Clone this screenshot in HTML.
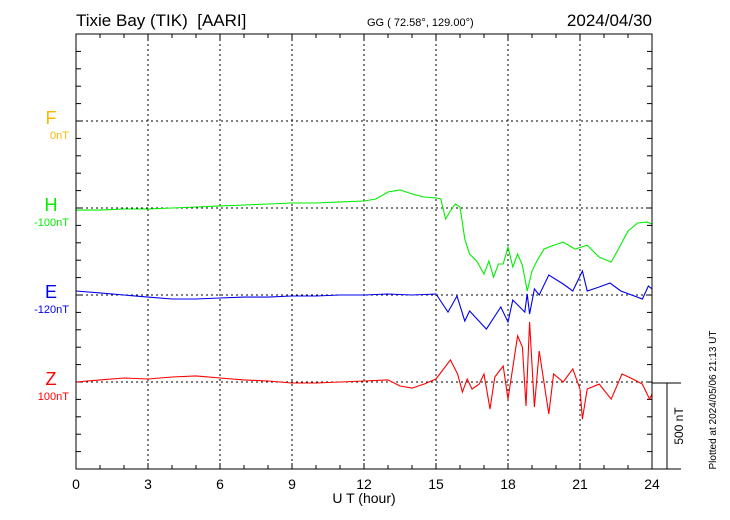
<!DOCTYPE html>
<html><head><meta charset="utf-8"><style>
body{margin:0;background:#fff;}
svg{display:block;font-family:"Liberation Sans",sans-serif;}
</style></head><body>
<svg id="chart" width="730" height="520" viewBox="0 0 730 520">
<text x="76" y="26" font-size="17">Tixie Bay (TIK)&#160; [AARI]</text>
<text x="367" y="26" font-size="11">GG ( 72.58°, 129.00°)</text>
<text x="652" y="26" font-size="17" text-anchor="end">2024/04/30</text>
<g id="grid"></g>
<g id="series"></g>
<rect x="76" y="34" width="576" height="435" fill="none" stroke="#000" stroke-width="1"/>
<g id="labels"></g>
<text x="364" y="503" font-size="14" text-anchor="middle">U T (hour)</text>
<g>
<line x1="652" y1="383" x2="681" y2="383" stroke="#000"/>
<line x1="667" y1="383" x2="667" y2="469" stroke="#000"/>
<line x1="652" y1="469" x2="681" y2="469" stroke="#000"/>
<text transform="translate(683,426) rotate(-90)" font-size="12" text-anchor="middle">500 nT</text>
</g>
<text transform="translate(716,400) rotate(-90)" font-size="10" text-anchor="middle">Plotted at 2024/05/06 21:13 UT</text>
</svg>
<script>
const xTicks = [0,3,6,9,12,15,18,21,24];
const hT = [0,1,2,3,4,5,6,7,8,9,10,11,12,12.5,13,13.5,14,14.5,15,15.2,15.4,15.6,15.8,16,16.2,16.4,16.7,17,17.2,17.4,17.6,17.8,18,18.2,18.4,18.6,18.8,19,19.2,19.5,19.8,20.3,20.8,21.3,21.8,22.3,22.6,23,23.4,23.8,24];
const hV = [-12,-12,-6,-6,0,6,12,17,23,29,29,35,40,52,92,104,81,63,58,52,-63,-17,23,6,-178,-265,-305,-380,-305,-397,-322,-322,-224,-339,-265,-328,-477,-362,-305,-236,-219,-196,-236,-213,-282,-311,-236,-132,-86,-81,-92];
const eT = [0,1,2,3,4,5,6,7,8,9,10,11,12,13,14,15,15.5,15.875,16.2,16.4,17.1,17.7,18.0,18.2,18.7,18.8,18.9,19.1,19.3,19.7,20.3,20.7,21.1,21.3,21.8,22.25,22.7,23.6,23.85,24];
const eV = [23,12,0,-12,-23,-23,-17,-12,-12,-6,-6,0,0,6,0,6,-98,-6,-150,-92,-196,-69,-155,-29,-98,6,-109,35,0,115,63,23,138,23,46,69,23,-23,52,35];
const zT = [0,1,2,3,4,5,6,7,8,9,10,11,12,13,13.5,14,14.5,15,15.6,15.9,16.1,16.3,16.5,16.8,17.0,17.25,17.45,17.8,18.0,18.4,18.6,18.75,18.9,19.1,19.3,19.7,19.9,20.3,20.7,21.0,21.1,21.3,21.8,22.3,22.75,23.2,23.6,23.9,24];
const zV = [0,12,23,17,29,35,23,12,6,-6,-6,0,6,12,-23,-35,-12,17,127,46,-58,17,-40,-12,46,-155,29,92,-98,265,201,-138,345,-144,178,-184,46,0,75,-40,-213,-40,-12,-98,46,17,-12,-98,-69];
const channelNames = ["F","H","E","Z"];
const channelBase = ["0nT","-100nT","-120nT","100nT"];

const NS="http://www.w3.org/2000/svg";
const X0=76,X1=652,Y0=34,Y1=469;
const xs=h=>X0+(X1-X0)*h/24;
const pxPerNT=87/500;
const rowY=i=>Y0+87*(i+1);
function mk(tag,attrs,parent){const e=document.createElementNS(NS,tag);for(const k in attrs)e.setAttribute(k,attrs[k]);parent.appendChild(e);return e;}
const grid=document.getElementById('grid');
for(let h=0;h<=24;h++){
  const x=xs(h);
  const t1=mk('line',{x1:x,y1:Y0,x2:x,y2:Y0+(h%3?4:6),stroke:'#000'},grid);
  
  
  const t2=mk('line',{x1:x,y1:Y1,x2:x,y2:Y1-(h%3?4:6),stroke:'#000'},grid);
  
  
}
xTicks.forEach(h=>{
  const x=xs(h);
  if(h>0&&h<24){const g=mk('line',{x1:x,y1:Y0,x2:x,y2:Y1,stroke:'#000','stroke-dasharray':'2,3'},grid);
  
  }
  const t=mk('text',{x:x,y:489,'font-size':14,'text-anchor':'middle'},grid);
  
  
  t.textContent=h;
});
for(let i=1;i<25;i++){
  const y=Y0+i*87/5;
  const a=mk('line',{x1:X0,y1:y,x2:X0+5,y2:y,stroke:'#000'},grid);
  
  
  const b=mk('line',{x1:X1,y1:y,x2:X1-5,y2:y,stroke:'#000'},grid);
  
  
}
for(let i=0;i<4;i++){
  const g=mk('line',{x1:X0,y1:rowY(i),x2:X1,y2:rowY(i),stroke:'#000','stroke-dasharray':'2,3'},grid);
  
  
}
const colors=['#ffb400','#00ee00','#0000ee','#ff0000'];
const series=document.getElementById('series');
function line(T,V,row,name){
  const pts=T.map((t,i)=>xs(t).toFixed(1)+','+(rowY(row)-V[i]*pxPerNT).toFixed(1)).join(' ');
  const p=mk('polyline',{points:pts,fill:'none',stroke:colors[row],'stroke-width':1.1},series);
  
  
}
line(hT,hV,1,'h-series');
line(eT,eV,2,'e-series');
line(zT,zV,3,'z-series');
const labels=document.getElementById('labels');
channelNames.forEach((n,i)=>{
  const t=mk('text',{x:51,y:rowY(i)+3,'font-size':18,'text-anchor':'middle',fill:colors[i]},labels);
  
  
  t.textContent=n;
  const s=mk('text',{x:69,y:rowY(i)+18,'font-size':11,'text-anchor':'end',fill:colors[i]},labels);
  
  
  s.textContent=channelBase[i];
});
</script>
</body></html>
